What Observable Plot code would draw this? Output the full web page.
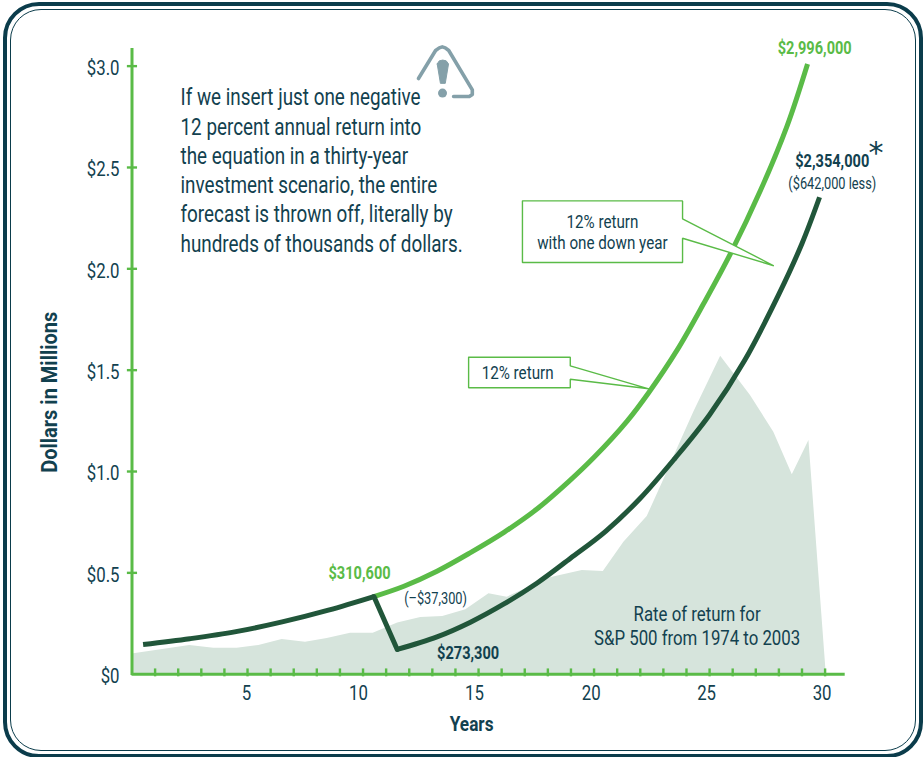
<!DOCTYPE html>
<html>
<head>
<meta charset="utf-8">
<script src="https://cdn.jsdelivr.net/npm/d3@7"></script>
<script src="https://cdn.jsdelivr.net/npm/@observablehq/plot@0.6"></script>
<style>
html,body{margin:0;padding:0;background:#fff;overflow:hidden}
#page{position:relative;width:923px;height:757px;overflow:hidden}
.outer{position:absolute;left:3px;top:2px;width:912px;height:748px;border:4px solid #0b3c4b;border-radius:36px}
.inner{position:absolute;left:3px;top:3px;right:3px;bottom:3px;border:1px solid #0b3c4b;border-radius:31px}
#chart{position:absolute;left:0;top:0}
</style>
</head>
<body>
<div id="page"><div class="outer"><div class="inner"></div></div><div id="chart"></div></div>
<script>
const GREEN = "#5abb47", DARK = "#21563a", INK = "#12414f", AREA = "#d6e4dc", ICON = "#84a0a9";
const NARROW = "Roboto,'Liberation Sans',sans-serif";

const yearTicks = d3.range(1, 31);
const xLabels = [5, 10, 15, 20, 25, 30];
const xLabelAt = [4.96, 9.8, 14.82, 19.88, 24.87, 29.87];
const yLabels = [0, 0.5, 1, 1.5, 2, 2.5, 3];

const sp500Years = [0, 2.5, 3.54, 4.55, 5.49, 6.5, 7.51, 8.45, 9.46, 10.44, 11.5, 12.5, 13.45, 14.45, 15.45, 16.24, 18.1, 19.49, 20.4, 21.29, 22.3, 23.0, 23.67, 24.32, 25.48, 26.77, 27.78, 28.58, 29.3, 30.05];
const sp500Values = [0.10, 0.142, 0.128, 0.128, 0.142, 0.171, 0.158, 0.176, 0.202, 0.202, 0.252, 0.28, 0.285, 0.318, 0.397, 0.38, 0.476, 0.512, 0.507, 0.651, 0.778, 0.955, 1.128, 1.293, 1.569, 1.375, 1.194, 0.984, 1.153, 0];

const sharedYears = [0.48, 2.5, 4.5, 6.5, 8.5, 10.47];
const sharedValues = [0.146, 0.175, 0.21, 0.258, 0.316, 0.383];

const steadyYears = [10.47, 11.77, 13.2, 14.65, 16.1, 17.54, 18.9, 20, 21.44, 22.37, 23.6, 24.75, 25.9, 27.2, 28.36, 29.24];
const steadyValues = [0.383, 0.434, 0.508, 0.60, 0.70, 0.816, 0.95, 1.07, 1.25, 1.39, 1.6, 1.83, 2.074, 2.386, 2.707, 3.011];

const dropYears = [10.47, 11.48];
const dropValues = [0.383, 0.122];

const downYears = [11.48, 13.2, 14.65, 16.1, 17.54, 18.98, 20.5, 22, 23.5, 25, 26.5, 28, 29, 29.76];
const downValues = [0.122, 0.184, 0.2565, 0.3465, 0.45, 0.572, 0.705, 0.868, 1.065, 1.28, 1.545, 1.875, 2.125, 2.353];

const callout1Years = [16.9, 23.83, 23.83, 27.78, 23.83, 23.83, 16.9, 16.9];
const callout1Values = [2.335, 2.335, 2.247, 2.015, 2.151, 2.031, 2.031, 2.335];
const callout2Years = [14.57, 18.97, 18.97, 22.37, 18.97, 18.97, 14.57, 14.57];
const callout2Values = [1.564, 1.564, 1.521, 1.408, 1.455, 1.413, 1.413, 1.564];

const iconYears = [12.40, 13.14, 13.3, 13.43, 13.56, 13.71, 14.73, 14.73, 14.6, 13.92];
const iconValues = [2.939, 3.077, 3.09, 3.095, 3.09, 3.077, 2.883, 2.86, 2.85, 2.85];
const bangYears = [13.21, 13.3, 13.45, 13.6, 13.70, 13.56, 13.35, 13.21];
const bangValues = [3.011, 3.026, 3.03, 3.026, 3.011, 2.915, 2.915, 3.011];

const paragraph = "If we insert just one negative\n12 percent annual return into\nthe equation in a thirty-year\ninvestment scenario, the entire\nforecast is thrown off, literally by\nhundreds of thousands of dollars.";

const pts = (xs, ys) => xs.map((x, i) => ({x, y: ys[i]}));
const curveOpts = {x: "x", y: "y", curve: "catmull-rom", strokeWidth: 5, strokeLinecap: "butt"};
const label = (text, x, y, o) => Plot.text([text], {x: () => x, y: () => y, fontFamily: NARROW, fill: INK, ...o});
const bold = {fontWeight: "bold", fontSize: 18.7};

const plot = Plot.plot({
  width: 923, height: 757,
  marginLeft: 131.5, marginRight: 78.3, marginTop: 48, marginBottom: 83.3,
  x: {domain: [0, 30.87], axis: null},
  y: {domain: [0, 3.087], axis: null},
  style: {background: "transparent", overflow: "visible"},
  marks: [
    Plot.areaY(pts(sp500Years, sp500Values), {x: "x", y: "y", fill: AREA}),
    Plot.ruleX(yearTicks, {x: d => d, y1: -0.013, y2: 0.026, stroke: GREEN, strokeWidth: 2.4}),
    Plot.ruleY(yLabels.slice(1), {y: d => d, x1: -0.2, x2: 0.24, stroke: GREEN, strokeWidth: 2.4}),
    Plot.ruleX([0], {y1: -0.007, y2: 3.087, stroke: GREEN, strokeWidth: 3}),
    Plot.ruleY([0], {x1: 0, x2: 30.87, stroke: GREEN, strokeWidth: 3}),
    Plot.text(yLabels, {x: () => -0.54, y: d => d, dy: 2, text: d => d === 0 ? "$0" : "$" + d.toFixed(1), textAnchor: "end", fontFamily: NARROW, fontSize: 21, fill: INK}),
    Plot.text(xLabels, {x: (d, i) => xLabelAt[i], y: () => -0.092, text: d => String(d), fontFamily: NARROW, fontSize: 21, fill: INK}),
    Plot.line(pts(steadyYears, steadyValues), {...curveOpts, stroke: GREEN}),
    Plot.line(pts(downYears, downValues), {...curveOpts, stroke: DARK}),
    Plot.line(pts(dropYears, dropValues), {x: "x", y: "y", stroke: DARK, strokeWidth: 5, strokeLinecap: "round"}),
    Plot.line(pts(sharedYears, sharedValues), {...curveOpts, stroke: DARK}),
    Plot.line(pts(callout1Years, callout1Values), {x: "x", y: "y", fill: "white", stroke: GREEN, strokeWidth: 1.4, strokeLinejoin: "miter"}),
    Plot.line(pts(callout2Years, callout2Values), {x: "x", y: "y", fill: "white", stroke: GREEN, strokeWidth: 1.4, strokeLinejoin: "miter"}),
    Plot.line(pts(iconYears, iconValues), {x: "x", y: "y", stroke: ICON, strokeWidth: 3.6}),
    Plot.line(pts(bangYears, bangValues), {x: "x", y: "y", fill: ICON, stroke: ICON, strokeWidth: 1}),
    Plot.dot([13.44], {x: d => d, y: () => 2.867, r: 4.5, fill: ICON}),
    label(paragraph, 2.1, 2.492, {textAnchor: "start", fontSize: 23.4, lineHeight: 1.25}),
    label("12% return\nwith one down year", 20.36, 2.181, {fontSize: 19, lineHeight: 1.105}),
    label("12% return", 16.69, 1.488, {fontSize: 19}),
    label("$2,996,000", 29.55, 3.09, {...bold, fill: GREEN}),
    label("$2,354,000", 30.31, 2.534, bold),
    label("*", 32.2, 2.57, {fontSize: 30, fontFamily: "DejaVu Sans"}),
    label("($642,000 less)", 30.31, 2.42, {fontSize: 16}),
    label("$310,600", 9.85, 0.497, {...bold, fill: GREEN}),
    label("(\u2013$37,300)", 13.14, 0.370, {fontSize: 16}),
    label("$273,300", 14.55, 0.104, bold),
    label("Rate of return for\nS&P 500 from 1974 to 2003", 24.46, 0.242, {fontSize: 21, lineHeight: 1.14}),
    label("Years", 14.7, -0.248, {...bold, fontSize: 19.7}),
    label("Dollars in Millions", -3.53, 1.391, {...bold, fontSize: 22, rotate: -90})
  ]
});
document.getElementById("chart").appendChild(plot);

// The reference uses a condensed face; squeeze each text horizontally about its anchor.
const squeeze = t => t === "*" ? 1 : t === "Dollars in Millions" ? 0.91 : t === "Years" ? 0.875 : /^\$\d,?\d+,/.test(t) || /^\$\d+,\d+$/.test(t) ? 0.78 : t.startsWith("If we") ? 0.806 : 0.8;
plot.querySelectorAll("text").forEach(el => {
  const cur = el.getAttribute("transform") || "";
  el.setAttribute("transform", `${cur} scale(${squeeze(el.textContent)},1)`);
});
</script>
</body>
</html>
